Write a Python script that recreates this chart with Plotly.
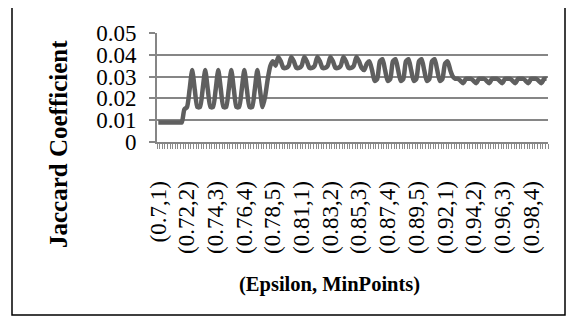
import plotly.graph_objects as go

epsilons = ["0.7", "0.71", "0.72", "0.73", "0.74", "0.75", "0.76", "0.77", "0.78", "0.79",
            "0.8", "0.81", "0.82", "0.83", "0.84", "0.85", "0.86", "0.87", "0.88", "0.89",
            "0.9", "0.91", "0.92", "0.93", "0.94", "0.95", "0.96", "0.97", "0.98", "0.99"]
min_points = [1, 2, 3, 4, 5]
categories = [f"({e},{m})" for e in epsilons for m in min_points]

jaccard = [
    0.009, 0.009, 0.009, 0.009, 0.009,   # 0.70
    0.009, 0.009, 0.009, 0.009, 0.009,   # 0.71
    0.015, 0.016, 0.024, 0.033, 0.024,   # 0.72
    0.016, 0.016, 0.024, 0.033, 0.024,   # 0.73
    0.016, 0.016, 0.024, 0.033, 0.024,   # 0.74
    0.016, 0.016, 0.024, 0.033, 0.024,   # 0.75
    0.016, 0.016, 0.024, 0.033, 0.024,   # 0.76
    0.016, 0.016, 0.024, 0.033, 0.024,   # 0.77
    0.016, 0.021, 0.029, 0.035, 0.037,   # 0.78
    0.035, 0.039, 0.037, 0.034, 0.034,   # 0.79
    0.035, 0.039, 0.037, 0.034, 0.034,   # 0.80
    0.035, 0.039, 0.037, 0.034, 0.034,   # 0.81
    0.035, 0.039, 0.037, 0.034, 0.034,   # 0.82
    0.035, 0.039, 0.037, 0.034, 0.034,   # 0.83
    0.035, 0.039, 0.037, 0.034, 0.034,   # 0.84
    0.035, 0.039, 0.037, 0.034, 0.033,   # 0.85
    0.036, 0.037, 0.033, 0.028, 0.029,   # 0.86
    0.037, 0.038, 0.033, 0.028, 0.029,   # 0.87
    0.037, 0.038, 0.033, 0.028, 0.029,   # 0.88
    0.037, 0.038, 0.033, 0.028, 0.029,   # 0.89
    0.037, 0.038, 0.033, 0.028, 0.029,   # 0.90
    0.037, 0.038, 0.033, 0.028, 0.029,   # 0.91
    0.036, 0.037, 0.033, 0.030, 0.029,   # 0.92
    0.029, 0.028, 0.027, 0.029, 0.029,   # 0.93
    0.029, 0.028, 0.027, 0.029, 0.029,   # 0.94
    0.029, 0.028, 0.027, 0.029, 0.029,   # 0.95
    0.029, 0.028, 0.027, 0.029, 0.029,   # 0.96
    0.029, 0.028, 0.027, 0.029, 0.029,   # 0.97
    0.029, 0.028, 0.027, 0.029, 0.029,   # 0.98
    0.029, 0.028, 0.027, 0.029, 0.029,   # 0.99
]

label_step = 11
y_ticks = [0, 0.01, 0.02, 0.03, 0.04, 0.05]
y_tick_text = ["0", "0.01", "0.02", "0.03", "0.04", "0.05"]

x_idx = list(range(len(categories)))
tick_idx = x_idx[::label_step]
tick_txt = [categories[i] for i in tick_idx]

# page body has an 8px margin; work in screen coordinates and subtract it
OFF = 8
W, H = 575 - OFF, 322 - OFF
PX0, PX1, PY0, PY1 = 157 - OFF, 548 - OFF, 33 - OFF, 142 - OFF   # plot area
L, R, T, B = PX0, W - PX1, PY0, H - PY1
PW, PH = PX1 - PX0, PY1 - PY0


def px(x):
    return (x - OFF - PX0) / PW


def py(y):
    return 1 - (y - OFF - PY0) / PH


fig = go.Figure()
fig.add_trace(go.Scatter(
    x=x_idx, y=jaccard, mode="lines",
    line=dict(color="#5f5f5f", width=4.5, shape="spline", smoothing=0.6),
    hoverinfo="skip", showlegend=False,
))

serif = "Liberation Serif, Times New Roman, serif"
fig.update_layout(
    width=W, height=H,
    margin=dict(l=L, r=R, t=T, b=B, pad=0),
    paper_bgcolor="white", plot_bgcolor="white",
    font=dict(family=serif, color="black"),
    showlegend=False,
    xaxis=dict(
        range=[-0.5, len(categories) - 0.5],
        tickmode="array", tickvals=tick_idx, ticktext=tick_txt,
        tickangle=-90, ticks="", tickfont=dict(size=23, family=serif, color="black"),
        ticklabelstandoff=28,
        showgrid=False, zeroline=False,
        showline=True, linecolor="#868686", linewidth=2,
        minor=dict(tickmode="linear", tick0=-0.5, dtick=1, ticks="outside",
                   ticklen=5, tickcolor="#8a8a8a", tickwidth=1.3, showgrid=False),
    ),
    yaxis=dict(
        range=[0, 0.05],
        tickmode="array", tickvals=y_ticks, ticktext=y_tick_text,
        ticks="outside", ticklen=6, tickcolor="#868686", tickwidth=2,
        tickfont=dict(size=23, family=serif, color="black"),
        ticklabelstandoff=8,
        showgrid=True, gridcolor="#868686", gridwidth=2,
        zeroline=False,
        showline=True, linecolor="#868686", linewidth=2,
    ),
    annotations=[
        dict(text="<b>Jaccard Coefficient</b>", textangle=-90,
             xref="paper", yref="paper",
             x=px(58), y=py(144),
             xanchor="center", yanchor="middle", showarrow=False,
             font=dict(size=25, family=serif, color="black")),
        dict(text="<b>(Epsilon, MinPoints)</b>",
             xref="paper", yref="paper",
             x=px(329), y=py(284),
             xanchor="center", yanchor="middle", showarrow=False,
             font=dict(size=20.5, family=serif, color="black")),
    ],
    shapes=[
        dict(type="rect", xref="paper", yref="paper",
             x0=px(12), x1=px(565), y0=py(315), y1=py(7),
             line=dict(color="black", width=1.5), fillcolor="rgba(0,0,0,0)",
             layer="below"),
    ],
)

fig.write_html("out.html")
